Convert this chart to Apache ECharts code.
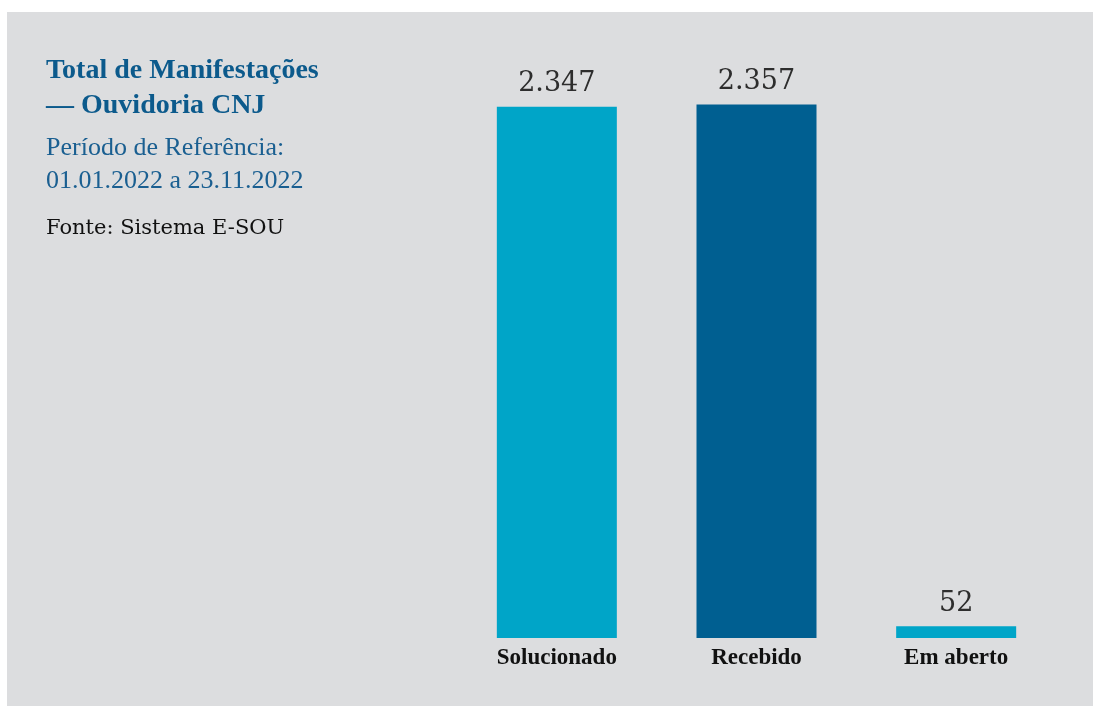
<!DOCTYPE html>
<html>
<head>
<meta charset="utf-8">
<script src="https://cdn.jsdelivr.net/npm/echarts@6/dist/echarts.min.js"></script>
<style>
  html, body { margin: 0; padding: 0; background: #ffffff; }
  #chart { width: 1100px; height: 706px; }
</style>
</head>
<body>
<div id="chart"></div>
<script>
// categorias e valores do grafico
var categories = ['Solucionado', 'Recebido', 'Em aberto'];
var values = [2347, 2357, 52];
var barColors = ['#00a5c8', '#005f91', '#00a5c8'];
var valueLabels = ['2.347', '2.357', '52'];

var serif = '"Liberation Serif", "DejaVu Serif", serif';
var wide = '"DejaVu Serif", "Liberation Serif", serif';
var chart = echarts.init(document.getElementById('chart'));

var option = {
  backgroundColor: '#ffffff',
  animation: false,
  graphic: [
    { type: 'rect', shape: { x: 7, y: 12, width: 1086, height: 700 }, style: { fill: '#dcdddf' }, z: -10 }
  ],
  title: [
    { text: 'Total de Manifestações\n— Ouvidoria CNJ', left: 41, top: 48,
      textStyle: { fontFamily: serif, fontWeight: 'bold', fontSize: 28, color: '#0c5a8c', lineHeight: 35 } },
    { text: 'Período de Referência:\n01.01.2022 a 23.11.2022', left: 41, top: 127,
      textStyle: { fontFamily: serif, fontWeight: 'normal', fontSize: 26, color: '#1a5f91', lineHeight: 33 } },
    { text: 'Fonte: Sistema E-SOU', left: 41, top: 213,
      textStyle: { fontFamily: wide, fontWeight: 'normal', fontSize: 21, color: '#111111' } }
  ],
  grid: { left: 457, right: 44, top: 72, bottom: 68 },
  xAxis: {
    type: 'category',
    data: categories,
    axisLine: { show: false },
    axisTick: { show: false },
    axisLabel: { fontFamily: serif, fontWeight: 'bold', fontSize: 23, color: '#111111', margin: 9 }
  },
  yAxis: {
    type: 'value',
    min: 0,
    max: 2500,
    show: false,
    splitLine: { show: false }
  },
  series: [{
    type: 'bar',
    barWidth: 120,
    data: values.map(function(v, i){
      return { value: v, itemStyle: { color: barColors[i] } };
    }),
    label: {
      show: true,
      position: 'top',
      distance: 9,
      fontFamily: wide,
      fontSize: 27,
      color: '#2d2d2d',
      formatter: function(p){ return valueLabels[p.dataIndex]; }
    }
  }]
};
chart.setOption(option);
</script>
</body>
</html>
